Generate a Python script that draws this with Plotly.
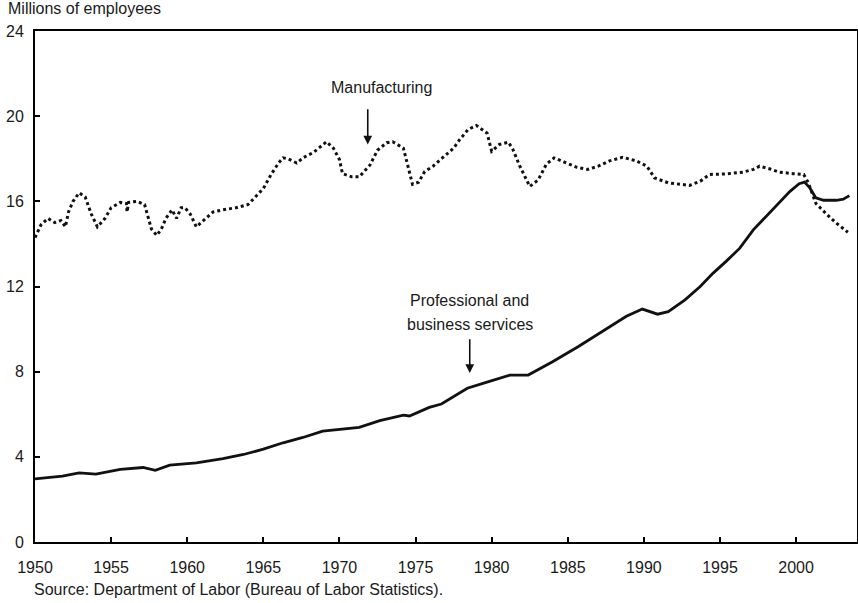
import plotly.graph_objects as go

# Manufacturing employment (millions)
mfg_years = [1950.0, 1950.4, 1950.85, 1951.3, 1951.7, 1952.0, 1952.2, 1952.5, 1952.9, 1953.3,
             1953.7, 1954.1, 1954.6, 1955.0, 1955.6, 1956.0, 1956.05, 1956.15, 1956.7, 1957.2,
             1957.65, 1958.0, 1958.3, 1958.6, 1959.0, 1959.3, 1959.6, 1959.85, 1960.2, 1960.6,
             1961.0, 1961.7, 1962.35, 1963.2, 1964.0, 1964.2, 1965.0, 1965.5, 1966.0, 1966.3,
             1966.6, 1967.2, 1967.6, 1968.3, 1969.15, 1969.6, 1970.0, 1970.2, 1970.8, 1971.3,
             1972.0, 1972.5, 1973.1, 1973.5, 1974.2, 1974.5, 1974.8, 1975.2, 1975.6, 1976.15,
             1976.8, 1977.5, 1977.9, 1978.45, 1979.0, 1979.7, 1980.0, 1980.5, 1981.1, 1981.4,
             1981.85, 1982.5, 1983.05, 1983.6, 1984.1, 1984.9, 1985.6, 1986.3, 1987.0, 1987.75,
             1988.6, 1989.5, 1990.2, 1990.7, 1991.6, 1992.4, 1993.0, 1993.7, 1994.3, 1995.4,
             1996.5, 1997.2, 1997.6, 1998.3, 1998.9, 1999.8, 2000.5, 2000.8, 2001.3, 2002.0,
             2002.6, 2003.4]
mfg_values = [14.3, 14.9, 15.2, 15.0, 15.1, 14.8, 15.5, 16.0, 16.4, 16.2,
              15.4, 14.8, 15.2, 15.7, 15.95, 15.9, 15.5, 15.95, 16.0, 15.85,
              14.7, 14.4, 14.7, 15.2, 15.6, 15.2, 15.7, 15.7, 15.4, 14.8,
              15.06, 15.5, 15.6, 15.7, 15.85, 16.0, 16.6, 17.25, 17.8, 18.04,
              18.0, 17.8, 18.04, 18.3, 18.8, 18.5, 17.96, 17.3, 17.15, 17.15,
              17.7, 18.4, 18.75, 18.8, 18.5, 17.65, 16.8, 16.9, 17.4, 17.65,
              18.04, 18.5, 18.9, 19.37, 19.56, 19.2, 18.35, 18.67, 18.78, 18.43,
              17.65, 16.7, 17.0, 17.75, 18.04, 17.8, 17.6, 17.5, 17.65, 17.9,
              18.07, 17.9, 17.65, 17.1, 16.87, 16.8, 16.75, 16.94, 17.26, 17.29,
              17.37, 17.5, 17.65, 17.52, 17.37, 17.3, 17.26, 16.87, 15.9, 15.4,
              15.0, 14.55]

# Professional and business services employment (millions)
pbs_years = [1950.0, 1951.0, 1951.8, 1952.9, 1954.0, 1955.6, 1957.1, 1957.9, 1958.85, 1960.6,
             1962.35, 1963.7, 1965.0, 1966.3, 1967.6, 1968.9, 1970.2, 1971.3, 1972.65, 1974.2,
             1974.6, 1975.9, 1976.7, 1978.4, 1979.8, 1981.2, 1982.4, 1984.0, 1985.7, 1987.1,
             1988.85, 1989.9, 1990.9, 1991.6, 1992.7, 1993.7, 1994.55, 1995.4, 1996.3, 1997.2,
             1998.05, 1998.9, 1999.6, 2000.2, 2000.55, 2000.9, 2001.3, 2001.8, 2002.65, 2003.1,
             2003.5]
pbs_values = [2.96, 3.02, 3.09, 3.25, 3.19, 3.41, 3.5, 3.37, 3.61, 3.72,
              3.92, 4.11, 4.36, 4.66, 4.91, 5.21, 5.29, 5.38, 5.7, 5.96,
              5.92, 6.32, 6.48, 7.22, 7.53, 7.84, 7.84, 8.47, 9.18, 9.8,
              10.6, 10.94, 10.7, 10.82, 11.37, 12.0, 12.63, 13.18, 13.8, 14.67,
              15.3, 15.92, 16.47, 16.83, 16.9, 16.63, 16.16, 16.05, 16.05, 16.1,
              16.27]

x_ticks = list(range(1950, 2001, 5))
y_ticks = list(range(0, 25, 4))

W, H = 858, 603
L, R, T, B = 35, 1, 31, 61
pw, ph = W - L - R, H - T - B

font = dict(family="Liberation Sans, Arial, sans-serif", size=16, color="#1a1a1a")

fig = go.Figure()
fig.add_trace(go.Scatter(x=mfg_years, y=mfg_values, mode="lines", name="Manufacturing",
                         line=dict(color="#111111", width=3, dash="dot")))
fig.add_trace(go.Scatter(x=pbs_years, y=pbs_values, mode="lines",
                         name="Professional and business services",
                         line=dict(color="#111111", width=2.8)))

axis_common = dict(showline=True, linecolor="black", linewidth=2, mirror=True,
                   ticks="inside", ticklen=5, tickwidth=2, tickcolor="black",
                   showgrid=False, zeroline=False, tickfont=font, automargin=False)
fig.update_xaxes(range=[1950, 2004], tickvals=x_ticks, ticklabelstandoff=10, **axis_common)
fig.update_yaxes(range=[0, 24], tickvals=y_ticks, ticklabelstandoff=6, **axis_common)


def px_x(p):
    return (p - L) / pw


def px_y(p):
    return (H - B - p) / ph


annotations = [
    dict(text="Millions of employees", xref="paper", yref="paper", x=px_x(6), y=px_y(9),
         xanchor="left", yanchor="middle", showarrow=False, font=font),
    dict(text="Source: Department of Labor (Bureau of Labor Statistics).", xref="paper",
         yref="paper", x=px_x(32), y=px_y(589), xanchor="left", yanchor="middle",
         showarrow=False, font=font),
    dict(text="Manufacturing", x=1972.78, y=21.35, xanchor="center", yanchor="middle",
         showarrow=False, font=font),
    dict(text="", x=1971.86, y=18.67, ax=1971.86, ay=20.4, axref="x", ayref="y",
         showarrow=True, arrowhead=2, arrowsize=1.1, arrowwidth=1.6, arrowcolor="#111111"),
    dict(text="Professional and", x=1978.56, y=11.33, xanchor="center", yanchor="middle",
         showarrow=False, font=font),
    dict(text="business services", x=1978.56, y=10.2, xanchor="center", yanchor="middle",
         showarrow=False, font=font),
    dict(text="", x=1978.56, y=7.94, ax=1978.56, ay=9.59, axref="x", ayref="y",
         showarrow=True, arrowhead=2, arrowsize=1.1, arrowwidth=1.6, arrowcolor="#111111"),
]

fig.update_layout(width=W, height=H, margin=dict(l=L, r=R, t=T, b=B),
                  plot_bgcolor="white", paper_bgcolor="white", showlegend=False,
                  font=font, annotations=annotations)

# drop the browser's default 8px body margin so the figure sits at the page corner
fig.write_html("out.html", config={"displayModeBar": False},
               post_script="document.body.style.margin = '0';")
